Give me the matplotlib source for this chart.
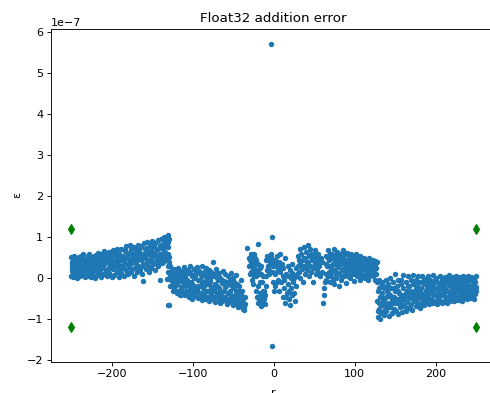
# -*- coding: utf-8 -*-
import matplotlib
matplotlib.use('Agg')
import matplotlib.pyplot as plt
import numpy as np

# puntos (r, error/1e-7), por tramos
tramo_a = [(-250,0.52),(-250,0.05),(-249,0.33),(-249,0.18),(-248,0.45),(-248,0.02),(-247,0.27),(-247,0.55),
           (-246,0.12),(-245,0.38),(-245,0.08),(-244,0.48),(-243,0.22),(-243,0.0),(-242,0.35),(-241,0.52),
           (-241,0.15),(-240,0.28),(-239,0.42),(-239,0.05),(-238,0.55),(-237,0.2),(-237,0.32),(-236,0.47),
           (-235,0.1),(-235,0.58),(-234,0.25),(-233,0.02),(-232,0.4),(-232,0.15),(-231,0.5),(-230,0.3),
           (-230,0.08),(-229,0.44),(-228,0.6),(-227,0.18),(-227,0.36),(-226,0.03),(-225,0.52),(-224,0.25),
           (-224,0.12),(-223,0.45),(-222,0.33),(-221,0.0),(-220,0.56),
           (-219,0.2),(-218,0.48),(-218,0.07),(-217,0.62),(-216,0.3),(-215,0.15),(-215,0.5),(-214,0.38),
           (-213,0.03),(-212,0.58),(-212,0.25),(-211,0.44),(-210,0.66),(-209,0.1),(-209,0.35),(-208,0.52),
           (-207,0.2),(-206,0.05),(-206,0.6),(-205,0.4),(-204,0.28),(-203,0.64),(-203,0.12),(-202,0.47),
           (-201,0.33),(-200,0.02),(-200,0.55),(-199,0.68),(-198,0.22),(-197,0.42),(-197,0.08),(-196,0.6),
           (-195,0.3),(-194,0.5),(-194,0.15),(-193,0.7),(-192,0.37),(-191,0.04),(-191,0.58),(-190,0.25),
           (-189,0.45),(-188,0.12),(-188,0.72),(-187,0.3),(-186,0.55),(-185,0.06),(-185,0.4),(-184,0.66),
           (-183,0.2),(-182,0.78),(-182,0.35),(-181,0.5),(-180,0.1),(-179,0.62),(-179,0.28),(-178,0.8),
           (-177,0.44),(-176,0.16),(-176,0.7),(-175,0.36),(-174,0.58),(-173,0.05),(-173,0.48),(-172,0.75),
           (-171,0.25),(-170,0.62),(-170,0.4),(-169,0.14),(-168,0.82),(-167,0.52),(-167,0.3),(-166,0.68),
           (-165,0.2),(-164,0.45),(-164,0.78),(-163,0.1),(-162,-0.08),(-161,0.6),(-161,0.35),(-160,0.85),
           (-159,0.5),(-158,0.22),(-158,0.74),(-157,0.4),(-156,0.88),(-155,0.3),(-155,0.6),(-154,0.15),
           (-153,0.8),(-152,0.48),(-152,0.68),(-151,0.25),(-150,0.9),(-149,0.55),(-149,0.35),(-148,0.76),
           (-147,0.2),(-146,0.62),(-146,0.86),(-145,0.42),(-144,0.7),(-143,0.3),(-143,0.92),(-142,0.52),
           (-141,0.8),(-140,-0.05),(-140,0.6),(-139,0.95),(-138,0.38),(-137,0.72),(-137,0.5),(-136,0.88),
           (-135,1.0),(-134,0.65),(-134,0.45),(-133,0.98),(-132,0.8),(-132,-0.03),(-131,1.05),(-130,0.6),
           (-130,0.88),(-129,0.52),(-129,0.95),(-131,0.3),(-130,0.15),(-129,0.4),(-128,0.05)]

tramo_a2 = [(-249.5,0.4),(-248.5,0.25),(-246.5,0.5),(-245.5,0.2),(-243.5,0.42),(-242.5,0.1),(-240.5,0.5),
            (-238.5,0.3),(-236.5,0.15),(-234.5,0.45),(-233.5,0.35),(-231.5,0.22),(-229.5,0.55),(-228.5,0.05),
            (-226.5,0.28),(-225.5,0.4),(-223.5,0.08),(-222.5,0.55),(-220.5,0.22),(-219.5,0.4),(-217.5,0.12),
            (-216.5,0.55),(-214.5,0.22),(-213.5,0.45),(-211.5,0.1),(-210.5,0.3),(-208.5,0.62),(-207.5,0.42),
            (-205.5,0.15),(-204.5,0.55),(-202.5,0.25),(-201.5,0.6),(-199.5,0.4),(-198.5,0.05),(-196.5,0.3),
            (-195.5,0.65),(-193.5,0.45),(-192.5,0.18),(-190.5,0.6),(-189.5,0.3),(-187.5,0.5),(-186.5,0.25),
            (-184.5,0.48),(-183.5,0.7),(-181.5,0.15),(-180.5,0.6),(-178.5,0.38),(-177.5,0.62),(-175.5,0.5),
            (-174.5,0.22),(-172.5,0.55),(-171.5,0.72),(-169.5,0.45),(-168.5,0.3),(-166.5,0.5),(-165.5,0.75),
            (-163.5,0.58),(-162.5,0.3),(-160.5,0.5),(-159.5,0.72),(-157.5,0.6),(-156.5,0.35),(-154.5,0.65),
            (-153.5,0.45),(-151.5,0.78),(-150.5,0.4),(-148.5,0.62),(-147.5,0.85),(-145.5,0.55),(-144.5,0.35),
            (-142.5,0.7),(-141.5,0.45),(-139.5,0.78),(-138.5,0.6),(-136.5,0.4),(-135.5,0.75),(-133.5,0.55),
            (-132.5,0.9),(-130.5,0.75)]

tramo_b = [(-128,0.3),(-128,0.05),(-127,0.15),(-127,-0.05),(-126,0.2),(-125,-0.3),(-125,0.08),(-124,-0.12),
           (-123,0.22),(-122,-0.2),(-122,0.0),(-121,0.12),(-120,-0.35),(-119,0.05),(-119,-0.15),(-118,0.25),
           (-117,-0.08),(-116,-0.4),(-116,0.1),(-115,-0.22),(-114,0.18),(-113,0.0),(-113,-0.3),(-112,-0.1),
           (-111,0.28),(-110,-0.42),(-110,0.06),(-109,-0.18),(-108,0.2),(-107,-0.05),(-107,-0.33),(-106,0.12),
           (-105,-0.45),
           (-104,0.15),(-104,-0.25),(-103,0.3),(-102,-0.1),(-101,0.05),(-101,-0.5),(-100,-0.32),(-99,0.22),
           (-98,-0.18),(-98,0.0),(-97,-0.42),(-96,0.12),(-95,-0.28),(-95,0.28),(-94,-0.05),(-93,-0.48),
           (-92,0.18),(-92,-0.2),(-91,-0.35),(-90,0.08),(-89,-0.12),(-89,0.3),(-88,-0.52),(-87,-0.25),
           (-86,0.14),(-86,-0.4),(-85,-0.08),(-84,0.25),(-83,-0.3),(-83,0.02),(-82,-0.45),(-81,-0.15),
           (-80,0.2),(-80,-0.55),
           (-79,-0.1),(-78,0.15),(-78,-0.38),(-77,-0.22),(-76,0.05),(-75,0.4),(-75,-0.5),(-74,-0.3),
           (-73,0.1),(-72,-0.15),(-72,-0.58),(-71,0.22),(-70,-0.35),(-69,-0.05),(-69,-0.45),(-68,0.12),
           (-67,-0.25),(-66,-0.6),(-66,0.0),(-65,-0.4),(-64,-0.12),(-63,0.18),(-63,-0.52),(-62,-0.3),
           (-61,-0.08),(-60,-0.45),(-60,0.1),(-59,-0.2),(-58,-0.62),(-57,-0.35),(-57,0.05),(-56,-0.5),
           (-55,-0.15),
           (-54,-0.3),(-53,0.12),(-53,-0.58),(-52,-0.1),(-51,-0.45),(-50,0.0),(-50,-0.65),(-49,-0.25),
           (-48,-0.52),(-47,0.08),(-47,-0.38),(-46,-0.6),(-45,-0.15),(-44,-0.45),(-44,-0.7),(-43,-0.3),
           (-42,-0.55),(-41,-0.05),(-41,-0.68),(-40,-0.4),(-39,-0.6),(-38,-0.75),(-38,-0.5),(-37,-0.78),
           (-36,-0.62),(-35,-0.45),(-131,-0.65),(-129,-0.66)]

tramo_b2 = [(-127.5,-0.2),(-126.5,0.0),(-124.5,0.1),(-123.5,-0.25),(-121.5,-0.1),(-120.5,0.2),(-118.5,-0.3),
            (-117.5,0.08),(-115.5,0.0),(-114.5,-0.4),(-112.5,0.15),(-111.5,-0.2),(-109.5,0.1),(-108.5,-0.3),
            (-106.5,-0.15),(-105.5,0.2),(-103.5,-0.35),(-102.5,0.1),(-100.5,-0.15),(-99.5,-0.45),(-97.5,0.05),
            (-96.5,-0.3),(-94.5,0.15),(-93.5,-0.2),(-91.5,-0.05),(-90.5,-0.45),(-88.5,0.05),(-87.5,-0.35),
            (-85.5,-0.2),(-84.5,-0.5),(-82.5,0.1),(-81.5,-0.3),(-79.5,-0.45),(-78.5,-0.05),(-76.5,-0.32),
            (-75.5,0.05),(-73.5,-0.45),(-72.5,-0.25),(-70.5,0.0),(-69.5,-0.2),(-67.5,-0.5),(-66.5,-0.3),
            (-64.5,-0.55),(-63.5,-0.05),(-61.5,-0.45),(-60.5,-0.22),(-58.5,-0.1),(-57.5,-0.55),(-55.5,-0.35),
            (-54.5,-0.05),(-52.5,-0.4),(-51.5,-0.2),(-49.5,-0.48),(-48.5,-0.1),(-46.5,-0.3),(-45.5,-0.55),
            (-43.5,-0.2),(-42.5,-0.65),(-40.5,-0.55),(-39.5,-0.3),(-37.5,-0.6),(-36.5,-0.7)]

tramo_c = [(-33,0.73),(-31,0.5),(-30,0.3),(-29,0.45),(-29,0.1),(-28,0.15),(-28,0.6),(-27,0.55),(-27,-0.05),
           (-26,0.25),(-26,-0.15),(-25,0.4),(-24,0.6),(-24,0.05),(-23,0.2),(-23,0.5),(-22,-0.3),(-22,0.35),
           (-21,-0.45),(-21,0.1),(-20,0.35),(-20,-0.6),(-19,0.83),(-19,-0.2),(-18,0.1),(-18,-0.5),(-17,-0.35),
           (-17,0.25),(-16,-0.68),(-16,0.3),(-15,-0.4),(-14,-0.1),(-14,-0.55),(-13,0.05),(-12,-0.3),
           (-11,-0.62),(-10,0.05),(-9,0.45),(-9,-0.2),(-8,0.2),(-8,0.55),(-7,0.3),(-6,0.5),(-6,0.1),(-5,0.35),
           (-4,0.6),(-4,0.15),(-3,0.4),(-1,0.3),(-1,-0.1),(0,0.45),(0,-0.3),
           (-28.5,0.35),(-25.5,0.15),(-24.5,0.3),(-22.5,0.05),(-21.5,0.45),(-19.5,0.2),(-17.5,-0.1),
           (-15.5,0.1),(-13.5,-0.3),(-12.5,-0.5),(-10.5,-0.4),(-7.5,0.45),(-5.5,0.2),(-3.5,0.55),(-0.5,0.15),
           (-3,5.70),(-2,1.01),(-2,-1.66)]

tramo_d = [(1,0.1),(2,0.45),(2,-0.2),(3,0.3),(4,0.55),(5,-0.05),(5,0.2),(6,0.4),(7,-0.3),(8,0.15),(8,0.6),
           (9,-0.1),(10,0.35),(11,-0.45),(11,0.05),(12,0.25),(13,-0.25),(14,0.48),(14,-0.6),(15,0.1),
           (16,-0.35),(17,0.3),(17,-0.15),(18,0.05),(19,-0.5),(20,0.2),(20,-0.65),(21,-0.25),(22,0.12),
           (23,-0.4),(23,0.35),(24,-0.1),(25,0.0),(26,-0.55),(27,0.25),(28,-0.2),(29,0.1),(30,0.55),(30,0.3),
           (31,0.15),(32,0.7),(33,0.4),(33,0.0),(34,0.6),(35,0.22),(36,0.45),(36,-0.1),(37,0.75),(38,0.3),
           (39,0.5),(39,0.1),(40,0.65),(41,0.2),(42,0.8),(42,0.4),(43,0.05),(44,0.55),(45,0.3),(45,0.7),
           (46,0.15),(47,0.45),(48,0.6),(48,0.25),(49,-0.1),(50,0.5),(51,0.35),(51,0.68),(52,0.1),(53,0.45),
           (54,0.2),(55,0.6),(56,0.3),(57,0.05),(58,0.5),(59,0.15),
           (1.5,0.35),(3.5,-0.1),(6.5,0.2),(9.5,0.3),(12.5,-0.05),(15.5,-0.45),(18.5,-0.3),(21.5,0.0),
           (24.5,-0.35),(27.5,0.05),(31.5,0.45),(34.5,0.3),(37.5,0.5),(40.5,0.4),(43.5,0.3),(46.5,0.6),
           (49.5,0.3),(52.5,0.55),(55.5,0.1),(57.5,0.4)]

tramo_e = [(60,0.4),(61,-0.6),(62,-0.42),(62,-0.25),(63,-0.1),(64,0.1),(65,0.55),(65,-0.05),(66,0.3),
           (67,0.68),(68,0.15),(68,0.45),(69,-0.1),(70,0.6),(71,0.25),(71,0.05),(72,0.5),(73,0.35),(74,0.7),
           (74,-0.15),(75,0.2),(76,0.55),(77,0.4),(77,0.0),(78,0.65),(79,0.28),(80,-0.2),(80,0.48),(81,0.12),
           (82,0.6),(83,0.35),(83,-0.05),(84,0.52),(85,0.22),(86,0.68),(86,0.4),(87,0.05),(88,0.58),(89,0.3),
           (89,-0.12),(90,0.45),(91,0.62),(92,0.18),(92,0.38),(93,0.55),(94,0.0),(95,0.28),(95,0.6),(96,0.45),
           (97,0.1),(98,0.52),(98,0.32),(99,-0.08),(100,0.42),(101,0.2),(101,0.58),(102,0.35),(103,0.05),
           (104,0.5),(104,0.25),(105,0.4),(106,-0.05),(107,0.55),(107,0.15),(108,0.32),(109,0.48),(110,0.08),
           (110,0.38),(111,0.22),(112,0.5),(113,0.0),(113,0.3),(114,0.45),(115,0.15),(116,0.4),(116,-0.05),
           (117,0.28),(118,0.48),(119,0.1),(119,0.35),(120,0.2),(121,0.42),(122,0.05),(122,0.3),(123,0.45),
           (124,0.15),(125,0.35),(125,-0.05),(126,0.25),(127,0.4),
           (64.5,0.35),(66.5,0.5),(67.5,0.05),(69.5,0.3),(70.5,0.15),(72.5,0.6),(73.5,-0.05),(75.5,0.45),
           (76.5,0.1),(78.5,0.3),(79.5,0.55),(81.5,0.4),(82.5,0.05),(84.5,0.2),(85.5,0.5),(87.5,0.35),
           (88.5,0.15),(90.5,0.25),(91.5,0.05),(93.5,0.3),(94.5,0.5),(96.5,0.2),(97.5,0.38),(99.5,0.25),
           (100.5,0.1),(102.5,0.5),(103.5,0.3),(105.5,0.15),(106.5,0.45),(108.5,0.05),(109.5,0.25),
           (111.5,0.4),(112.5,0.1),(114.5,0.2),(115.5,0.38),(117.5,0.05),(118.5,0.25),(120.5,0.4),
           (121.5,0.15),(123.5,0.25),(124.5,0.42),(126.5,0.1)]

tramo_f = [(128,-0.1),(128,-0.55),(129,-0.95),(129,-0.3),(130,-0.75),(130,-0.05),(131,-0.45),(131,-1.0),
           (132,-0.2),(132,-0.65),(133,-0.85),(134,-0.35),(134,-0.1),(135,-0.55),(136,-0.9),(136,-0.25),
           (137,-0.7),(138,-0.05),(138,-0.45),(139,-0.8),(140,-0.3),(141,-0.6),(141,-0.15),(142,-0.92),
           (143,-0.4),(144,0.0),(144,-0.7),(145,-0.25),(146,-0.55),(146,-0.85),(147,-0.1),(148,-0.45),
           (149,-0.75),(150,-0.3),(150,0.1),(151,-0.6),(152,-0.2),(153,-0.88),(153,-0.5),(154,-0.05),
           (155,-0.35),(156,-0.7),(157,-0.15),(157,-0.55),(158,-0.82),(159,-0.4),(160,-0.25),(160,0.08),
           (161,-0.65),(162,-0.45),(163,-0.1),(163,-0.8),(164,-0.3),(165,-0.58),(166,0.05),(166,-0.72),
           (167,-0.2),(168,-0.48),(169,-0.05),(169,-0.62),(170,-0.35),(171,-0.78),(172,0.08),(172,-0.15),
           (173,-0.52),(174,-0.3),(175,-0.68),(175,-0.05),(176,-0.42),(177,-0.2),(178,0.05),(178,-0.6),
           (179,-0.35),(180,-0.72),(181,-0.1),(181,-0.48),(182,-0.25),(183,0.06),(184,-0.58),(184,-0.38),
           (185,-0.15),(186,-0.65),(187,-0.02),(187,-0.45),(188,-0.28),(189,-0.55),(190,0.05),(190,-0.12),
           (191,-0.4),(192,-0.62),(193,-0.22),(193,-0.05),(194,-0.5),(195,-0.32),(196,0.07),(196,-0.6),
           (197,-0.15),(198,-0.42),(199,-0.25),(199,-0.55),(200,0.0),(201,-0.35),(202,-0.62),(202,-0.1),
           (203,-0.48),(204,-0.2),(205,0.06),(205,-0.55),(206,-0.3),(207,-0.42),(208,-0.05),(208,-0.6),
           (209,-0.18),(210,-0.35),(211,0.04),(211,-0.52),(212,-0.25),(213,-0.45),(214,-0.1),(214,-0.6),
           (215,-0.3),(216,0.07),(217,-0.4),(217,-0.2),(218,-0.55),(219,-0.05),(220,-0.32),(220,-0.48),
           (221,0.02),(222,-0.15),(223,-0.55),(223,-0.38),(224,-0.25),(225,0.06),(226,-0.45),(226,-0.1),
           (227,-0.3),(228,-0.52),(229,-0.2),(229,0.03),(230,-0.4),(231,-0.08),(232,-0.55),(232,-0.28),
           (233,-0.15),(234,0.05),(235,-0.45),(235,-0.35),(236,-0.22),(237,-0.02),(238,-0.5),(238,-0.3),
           (239,-0.12),(240,0.06),(241,-0.4),(241,-0.2),(242,-0.48),(243,-0.05),(244,-0.32),(244,0.04),
           (245,-0.42),(246,-0.15),(247,-0.5),(247,-0.25),(248,0.02),(249,-0.38),(249,-0.1),(250,-0.3),
           (250,0.05)]

tramo_f2 = [(128.5,-0.8),(129.5,-0.6),(130.5,-0.25),(132.5,-0.45),(133.5,-0.15),(135.5,-0.8),(136.5,-0.5),
            (138.5,-0.65),(139.5,-0.2),(141.5,-0.35),(142.5,-0.7),(144.5,-0.45),(145.5,-0.85),(147.5,-0.6),
            (148.5,-0.25),(150.5,-0.5),(151.5,-0.8),(153.5,-0.3),(154.5,-0.6),(156.5,-0.45),(157.5,-0.05),
            (159.5,-0.65),(160.5,-0.5),(162.5,-0.7),(163.5,-0.35),(165.5,-0.2),(166.5,-0.45),(168.5,-0.7),
            (169.5,-0.3),(171.5,-0.5),(172.5,-0.38),(174.5,-0.55),(175.5,-0.25),(177.5,-0.45),(178.5,-0.12),
            (180.5,-0.3),(181.5,-0.62),(183.5,-0.45),(184.5,-0.08),(186.5,-0.35),(187.5,-0.55),(189.5,-0.2),
            (190.5,-0.45),(192.5,-0.3),(193.5,-0.55),(195.5,-0.1),(196.5,-0.38),(198.5,-0.05),(199.5,-0.4),
            (201.5,-0.55),(202.5,-0.25),(204.5,-0.45),(205.5,-0.12),(207.5,-0.25),(208.5,-0.4),(210.5,-0.55),
            (211.5,-0.15),(213.5,-0.3),(214.5,-0.02),(216.5,-0.45),(217.5,-0.1),(219.5,-0.42),(220.5,-0.2),
            (222.5,-0.35),(223.5,-0.05),(225.5,-0.3),(226.5,-0.5),(228.5,-0.1),(229.5,-0.4),(231.5,-0.25),
            (232.5,-0.45),(234.5,-0.3),(235.5,-0.05),(237.5,-0.4),(238.5,-0.18),(240.5,-0.3),(241.5,-0.05),
            (243.5,-0.45),(244.5,-0.2),(246.5,-0.35),(247.5,-0.05),(249.5,-0.22)]

# cotas de epsilon float32
cota_r = [-250, -250, 250, 250]
cota_eps = [1.19e-7, -1.19e-7, 1.19e-7, -1.19e-7]

puntos = tramo_a + tramo_a2 + tramo_b + tramo_b2 + tramo_c + tramo_d + tramo_e + tramo_f + tramo_f2
r = np.array([p[0] for p in puntos], dtype=float)
err = np.array([p[1] for p in puntos]) * 1e-7

fig = plt.figure(figsize=(490 / 80.0, 393 / 80.0), dpi=80)
fig.patch.set_facecolor('white')
ax1 = fig.add_axes([51 / 490.0, 31.5 / 393.0, 445.5 / 490.0, 332.5 / 393.0])

ax1.scatter(r, err, s=15)
ax1.plot(cota_r, cota_eps, 'gd')

ax1.set_title('Float32 addition error')
ax1.set_xlabel('r', labelpad=8)
ax1.set_ylabel(u'ε')
# el borde derecho queda fuera del recorte
ax1.spines['right'].set_visible(False)

plt.savefig('out.png', dpi=80)
plt.close(fig)
